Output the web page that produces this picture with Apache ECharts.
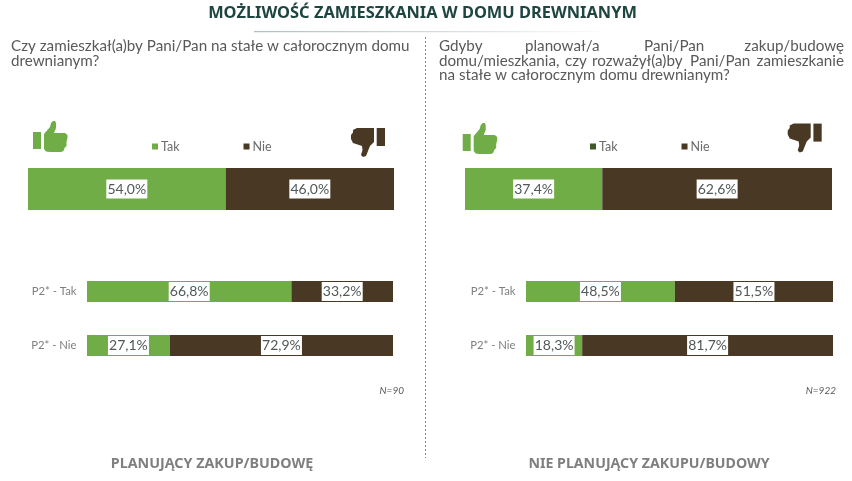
<!DOCTYPE html>
<html><head><meta charset="utf-8">
<style>html,body{margin:0;padding:0;background:#fff}#c{width:852px;height:481px}</style>
<script src="https://cdn.jsdelivr.net/npm/echarts@6/dist/echarts.min.js"></script>
</head><body><div id="c"></div>
<script>
const rows = ['P2* - Tak', 'P2* - Nie'];
const leftTopTak = [54.0];
const leftTopNie = [46.0];
const rightTopTak = [37.4];
const rightTopNie = [62.6];
const leftTak = [66.8, 27.1];
const leftNie = [33.2, 72.9];
const rightTak = [48.5, 18.3];
const rightNie = [51.5, 81.7];
const GREEN = '#70ad47', BROWN = '#493823';
const FONT = 'Lato';
const TXT = '#595959';

const chart = echarts.init(document.getElementById('c'), null, {renderer: 'canvas'});

const grids = [
  {left: 28, top: 168, width: 366, height: 42},
  {left: 465, top: 168, width: 367, height: 42},
  {left: 87, top: 264.5, width: 306, height: 108},
  {left: 526, top: 264.5, width: 307, height: 108}
];
const cats = [[''], [''], rows, rows];
const vals = [
  [leftTopTak, leftTopNie], [rightTopTak, rightTopNie],
  [leftTak, leftNie], [rightTak, rightNie]
];
const xAxis = grids.map((g, i) => ({gridIndex: i, type: 'value', min: 0, max: 100, show: false}));
const yAxis = grids.map((g, i) => ({
  gridIndex: i, type: 'category', inverse: true, data: cats[i],
  axisLine: {show: false}, axisTick: {show: false}, splitLine: {show: false},
  axisLabel: {show: i > 1, color: '#7f7f7f', fontFamily: FONT, fontSize: 11.3, margin: 10.5}
}));
const series = [];
vals.forEach((pair, i) => {
  ['Tak', 'Nie'].forEach((name, k) => {
    series.push({
      name, type: 'bar', stack: 'g' + i, xAxisIndex: i, yAxisIndex: i,
      barWidth: i < 2 ? 42 : 21, data: pair[k],
      itemStyle: {color: k ? BROWN : GREEN},
      label: {
        show: true, position: 'inside', color: '#505858', fontFamily: FONT, fontSize: 14,
        backgroundColor: '#fff', padding: [3, 4, 2, 4], width: 33, align: 'center',
        formatter: p => p.value.toFixed(1).replace('.', ',') + '%'
      }
    });
  });
});

function txt(x, y, text, o) {
  return {type: 'text', x, y, silent: true, style: Object.assign({
    text, fill: TXT, fontFamily: FONT, fontSize: 15.2, textVerticalAlign: 'middle', textAlign: 'left'
  }, o || {})};
}
const upHand = [[44,134],[50,127],[51,123],[53,121],[55,121],[56,123],[56,128],[54,133],[65,133],[67.5,135],[67.5,138],[66.5,142],[66.5,146],[64.5,148],[63.5,151],[61,152],[50,152],[46,151.5],[44,149]];
const downHand = [[374,128],[357,128],[353,130],[353,132.5],[351,135],[351,139],[353,143],[362,146],[362.5,150],[361,155],[363,157],[366,156],[368,151],[370,146],[374,142]];
function icon(hand, cuff, color, dx, dy) {
  return [
    {type: 'polygon', x: dx, y: dy, silent: true, shape: {points: hand}, style: {fill: color}},
    {type: 'rect', x: dx, y: dy, silent: true, shape: cuff, style: {fill: color}}
  ];
}
const upCuff = {x: 33, y: 132, width: 8, height: 17};
const downCuff = {x: 376.7, y: 128, width: 8.3, height: 18};
const q2 = [
  ['Gdyby', 439, 46], ['planował/a', 525, 46], ['Pani/Pan', 644, 46], ['zakup/budowę', 844, 46, 'right'],
  ['domu/mieszkania,', 439, 61], ['czy', 565, 61], ['rozważył(a)by', 592, 61], ['Pani/Pan', 690, 61], ['zamieszkanie', 844, 61, 'right'],
  ['na stałe w całorocznym domu drewnianym?', 439, 75.5]
];
const graphic = [
  {type: 'rect', silent: true, shape: {x: 254, y: 31, width: 360, height: 1.2},
   style: {fill: new echarts.graphic.LinearGradient(0, 0, 1, 0, [
     {offset: 0, color: '#a9c4c0'}, {offset: 0.5, color: '#cfdedb'}, {offset: 1, color: '#ffffff'}])}},
  {type: 'line', silent: true, shape: {x1: 425.5, y1: 37, x2: 425.5, y2: 458},
   style: {stroke: '#6f9c5c', lineWidth: 1, lineDash: [2, 2]}},
  txt(422.5, 13, 'MOŻLIWOŚĆ ZAMIESZKANIA W DOMU DREWNIANYM', {fontFamily: 'Noto Sans', fontWeight: 'bold', fontSize: 16.4, fill: '#1f4540', textAlign: 'center'}),
  txt(11, 46, 'Czy zamieszkał(a)by Pani/Pan na stałe w całorocznym domu'),
  txt(11, 61, 'drewnianym?'),
  ...q2.map(w => txt(w[1], w[2], w[0], {textAlign: w[3] || 'left'})),
  txt(212, 464, 'PLANUJĄCY ZAKUP/BUDOWĘ', {fontFamily: 'Noto Sans', fontWeight: 'bold', fontSize: 14.3, fill: '#7f7f7f', textAlign: 'center'}),
  txt(649, 464, 'NIE PLANUJĄCY ZAKUPU/BUDOWY', {fontFamily: 'Noto Sans', fontWeight: 'bold', fontSize: 14.2, fill: '#7f7f7f', textAlign: 'center'}),
  txt(404, 391, 'N=90', {fontSize: 10, fontStyle: 'italic', textAlign: 'right'}),
  txt(836, 391, 'N=922', {fontSize: 10, fontStyle: 'italic', textAlign: 'right'}),
  ...icon(upHand, upCuff, GREEN, 0, 0), ...icon(upHand, upCuff, GREEN, 429.7, 2),
  ...icon(downHand, downCuff, BROWN, 0, 0), ...icon(downHand, downCuff, BROWN, 436.7, -4.4)
];
function legend(left, takColor) {
  return {
    left, top: 140, itemWidth: 6, itemHeight: 6, itemGap: 64, icon: 'rect', selectedMode: false, padding: 0,
    textStyle: {color: '#6b6b6b', fontFamily: FONT, fontSize: 12.5, padding: [0, 0, 0, -2]},
    data: [{name: 'Tak', itemStyle: {color: takColor}}, {name: 'Nie', itemStyle: {color: BROWN}}]
  };
}
chart.setOption({
  animation: false, backgroundColor: '#fff',
  grid: grids, xAxis, yAxis, series, graphic,
  legend: [legend(152, GREEN), legend(590, '#3f5a2a')]
});
</script></body></html>
